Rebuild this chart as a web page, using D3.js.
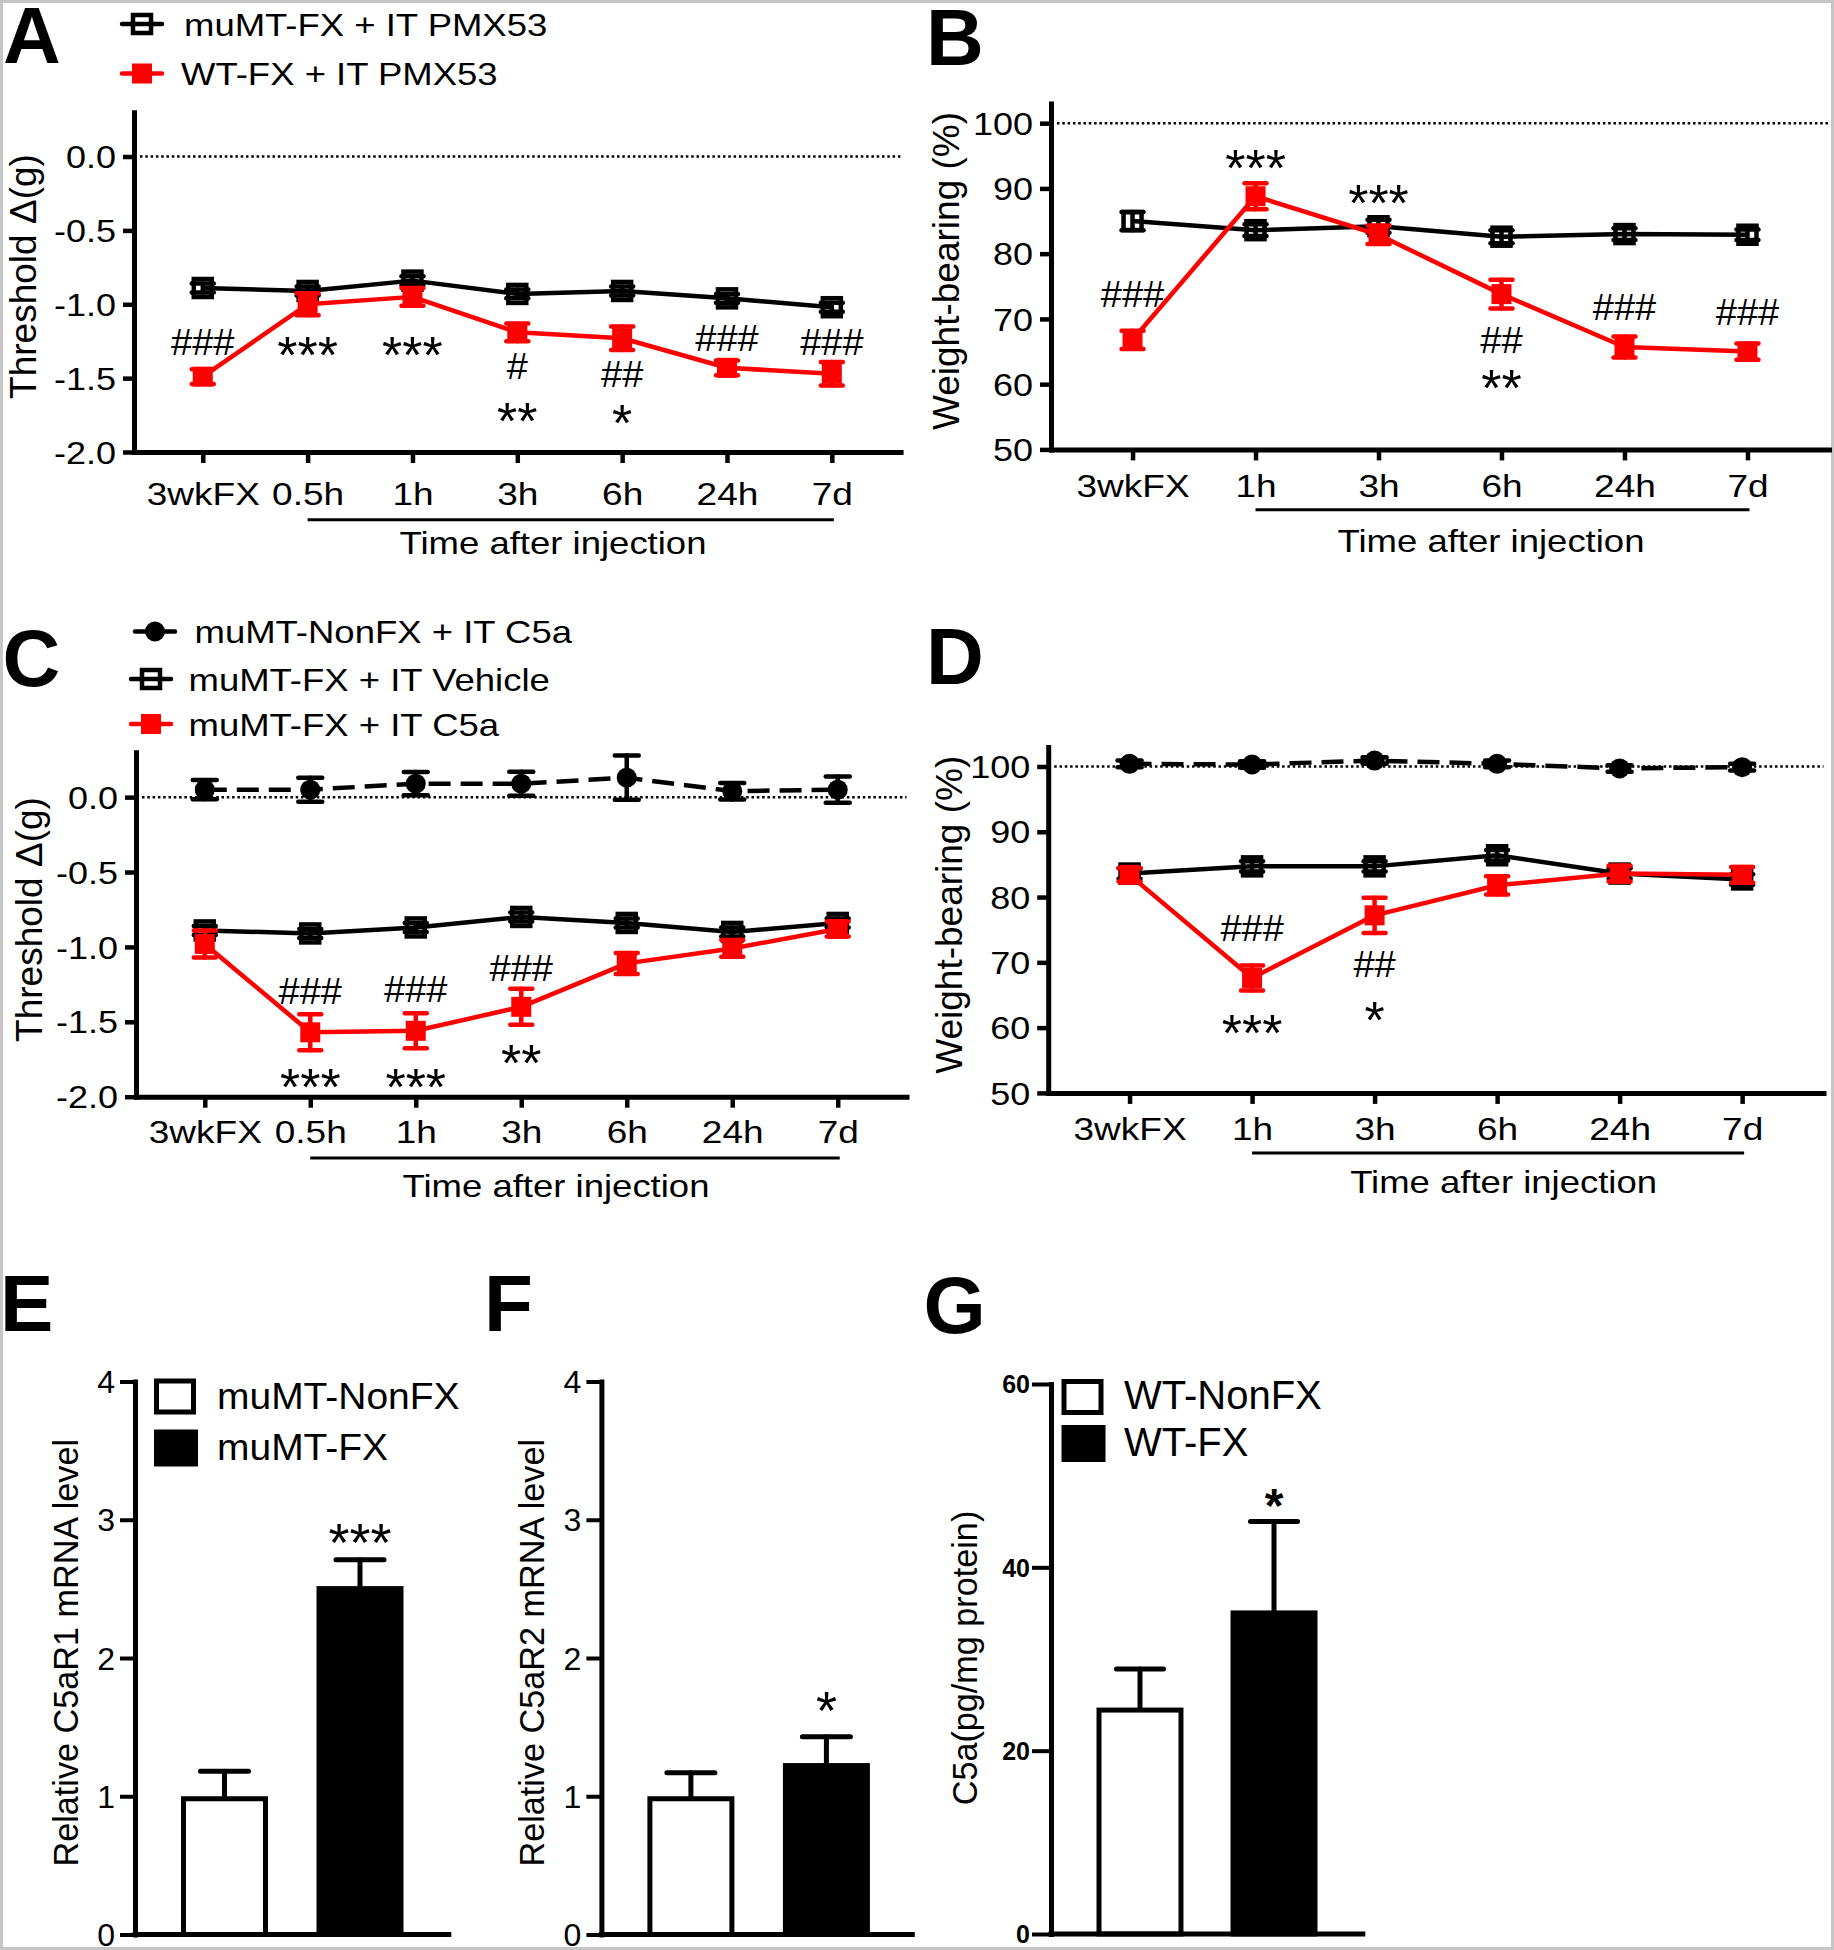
<!DOCTYPE html>
<html><head><meta charset="utf-8">
<script src="https://cdn.jsdelivr.net/npm/d3@7"></script>
<style>body{margin:0;background:#fff}svg{display:block}</style>
</head><body>
<script>
// ---------------- DATA ----------------
const timeA = ["3wkFX","0.5h","1h","3h","6h","24h","7d"];
const timeB = ["3wkFX","1h","3h","6h","24h","7d"];

// Panel A : threshold change (g)
const aMuMTPMX = [-0.89,-0.91,-0.84,-0.93,-0.91,-0.96,-1.02];
const aMuMTPMXErr = [0.03,0.03,0.03,0.03,0.03,0.03,0.03];
const aWTPMX = [-1.49,-1.00,-0.95,-1.19,-1.23,-1.43,-1.47];
const aWTPMXErr = [0.05,0.075,0.06,0.06,0.08,0.05,0.08];
const aAnnot = [["3wkFX","###",-1.343],["0.5h","***",-1.465],["1h","***",-1.465],["3h","#",-1.506],["3h","**",-1.912],
                ["6h","##",-1.557],["6h","*",-1.926],["24h","###",-1.316],["7d","###",-1.343]];

// Panel B : weight bearing (%)
const bMuMTPMX = [85.0,83.6,84.2,82.6,83.0,82.9];
const bMuMTPMXErr = [1.4,0.9,1.0,1.0,0.9,0.8];
const bWTPMX = [66.8,88.8,82.9,73.8,65.7,65.0];
const bWTPMXErr = [1.4,2.0,1.4,2.2,1.6,1.25];
const bAnnot = [["3wkFX","###",71.8],["1h","***",90.4],["3h","***",85.0],["6h","##",64.8],["6h","**",56.6],
                ["24h","###",69.8],["7d","###",69.0]];

// Panel C : threshold change (g)
const cNonFXC5a = [0.05,0.05,0.09,0.09,0.13,0.04,0.05];
const cNonFXC5aErr = [0.064,0.08,0.077,0.08,0.148,0.055,0.087];
const cFXVeh = [-0.89,-0.91,-0.87,-0.80,-0.84,-0.90,-0.84];
const cFXVehErr = [0.03,0.03,0.03,0.03,0.03,0.03,0.03];
const cFXC5a = [-0.98,-1.57,-1.56,-1.40,-1.11,-1.01,-0.88];
const cFXC5aErr = [0.09,0.12,0.117,0.12,0.07,0.056,0.05];
const cAnnot = [["0.5h","###",-1.379],["0.5h","***",-2.055],["1h","###",-1.368],["1h","***",-2.055],
                ["3h","###",-1.228],["3h","**",-1.895]];

// Panel D : weight bearing (%)
const dNonFXC5a = [100.4,100.3,100.9,100.4,99.7,99.9];
const dNonFXC5aErr = [0.5,0.5,0.5,0.5,0.5,0.5];
const dFXVeh = [83.6,84.7,84.7,86.4,83.6,82.7];
const dFXVehErr = [0.8,0.8,0.8,0.8,0.8,0.8];
const dFXC5a = [83.4,67.6,77.2,81.8,83.6,83.4];
const dFXC5aErr = [1.0,1.9,2.7,1.4,1.2,1.2];
const dAnnot = [["1h","###",73.3],["1h","***",56.4],["3h","##",67.75],["3h","*",58.4]];

// Panels E, F, G : bars
const efGroups = ["muMT-NonFX","muMT-FX"];
const eMean = [1.0,2.52], eErr = [0.18,0.19];
const fMean = [1.0,1.24], fErr = [0.17,0.19];
const gGroups = ["WT-NonFX","WT-FX"];
const gMean = [24.7,35.3], gErr = [4.2,9.7];
const eAnnot = [["muMT-FX","***",2.70]];
const fAnnot = [["muMT-FX","*",1.486]];
const gAnnot = [["WT-FX","*",44.95]];

const ticksThr = [-2.0,-1.5,-1.0,-0.5,0.0];
const ticksWB = [50,60,70,80,90,100];
const ticksRel = [0,1,2,3,4];
const ticksC5a = [0,20,40,60];

// ---------------- DRAWING ----------------
const FONT = "'Liberation Sans', Arial, Helvetica, sans-serif";
const RED = "#ff0000";
const K = 0.86; // vertical squish of horizontal text in top panels
const svg = d3.select("body").append("svg").attr("width",1834).attr("height",1950)
  .style("font-family",FONT);
svg.append("rect").attr("width",1834).attr("height",1950).attr("fill","#fff");
svg.append("rect").attr("x",1.5).attr("y",1.5).attr("width",1831).attr("height",1947)
  .attr("fill","none").attr("stroke","#c6c6c6").attr("stroke-width",3);

function txt(g,x,y,s,o={}){
  const F=o.size||36, k=o.k||1;
  let tr=`translate(${x},${y}) scale(1,${k})`+(o.rot?` rotate(${o.rot})`:"");
  return g.append("text").attr("transform",tr).attr("font-size",F)
    .attr("font-weight",o.weight||"normal").attr("text-anchor",o.anchor||"start")
    .attr("fill","#000").text(s);
}

function styleAxis(a){
  a.select(".domain").attr("stroke","#000").attr("stroke-width",5).attr("stroke-linecap","square");
  a.selectAll(".tick line").attr("stroke","#000").attr("stroke-width",4.5);
  a.selectAll("text").attr("fill","#000").attr("font-family",FONT);
}

function annotate(g,x,y,list,o={}){
  g.append("g").selectAll("text").data(list).join("text")
    .attr("transform",d=>{
      const isHash=d[1].includes("#");
      return `translate(${x(d[0])+(o.dx||0)},${y(d[2])}) scale(1,${isHash?0.95:1})`;})
    .attr("text-anchor","middle")
    .attr("font-size",d=>d[1].includes("#")?38:(o.ast||52))
    .attr("font-weight",o.weight||"normal")
    .attr("fill","#000").text(d=>d[1]);
}

function drawMarker(sel,type,color){
  if(type==="open"){
    sel.append("rect").attr("x",-9).attr("y",-9).attr("width",18).attr("height",18)
      .attr("fill","none").attr("stroke",color).attr("stroke-width",4.5);
  } else if(type==="filled"){
    sel.append("rect").attr("x",-10).attr("y",-10).attr("width",20).attr("height",20).attr("fill",color);
  } else {
    sel.append("circle").attr("r",10).attr("fill",color);
  }
}

function series(g,x,y,cats,vals,errs,st){
  const pts=cats.map((c,i)=>({c,v:vals[i],e:errs[i]}));
  const sg=g.append("g");
  sg.append("path").datum(pts)
    .attr("d",d3.line().x(d=>x(d.c)).y(d=>y(d.v)))
    .attr("fill","none").attr("stroke",st.color).attr("stroke-width",4.5)
    .attr("stroke-linejoin","round").attr("stroke-dasharray",st.dash||null);
  const eb=sg.append("g").attr("stroke",st.color).attr("stroke-width",4.5).attr("stroke-linecap","round")
    .selectAll("g").data(pts).join("g");
  eb.append("line").attr("x1",d=>x(d.c)).attr("x2",d=>x(d.c)).attr("y1",d=>y(d.v+d.e)).attr("y2",d=>y(d.v-d.e));
  eb.append("line").attr("x1",d=>x(d.c)-st.cap/2).attr("x2",d=>x(d.c)+st.cap/2).attr("y1",d=>y(d.v+d.e)).attr("y2",d=>y(d.v+d.e));
  eb.append("line").attr("x1",d=>x(d.c)-st.cap/2).attr("x2",d=>x(d.c)+st.cap/2).attr("y1",d=>y(d.v-d.e)).attr("y2",d=>y(d.v-d.e));
  const mk=sg.append("g").selectAll("g").data(pts).join("g")
    .attr("transform",d=>`translate(${x(d.c)},${y(d.v)})`);
  drawMarker(mk,st.marker,st.color);
}

function legendItem(g,cx,cy,tx,label,st){
  const lg=g.append("g");
  lg.append("line").attr("x1",cx-20).attr("x2",cx+20).attr("y1",cy).attr("y2",cy)
    .attr("stroke",st.color).attr("stroke-width",4.5).attr("stroke-linecap","round");
  const m=lg.append("g").attr("transform",`translate(${cx},${cy})`);
  drawMarker(m,st.marker,st.color);
  txt(lg,tx,cy+11.5,label,{size:36.5,k:K});
}

function linePanel(p){
  const g=svg.append("g");
  const x=d3.scalePoint().domain(p.cats).range([p.x0,p.x1]).padding(p.pad);
  const y=d3.scaleLinear().domain(p.domain).range([p.yb,p.yt]);
  g.append("line").attr("x1",p.x0+6).attr("x2",p.x1).attr("y1",y(p.ref)).attr("y2",y(p.ref))
    .attr("stroke","#000").attr("stroke-width",2.5).attr("stroke-dasharray","2.5,2.8");
  const yg=g.append("g").attr("transform",`translate(${p.x0},0)`)
    .call(d3.axisLeft(y).tickValues(p.ticks).tickFormat(p.fmt).tickSize(11).tickSizeOuter(0).tickPadding(7));
  const xg=g.append("g").attr("transform",`translate(0,${p.yb})`)
    .call(d3.axisBottom(x).tickSize(11).tickSizeOuter(0));
  styleAxis(yg); styleAxis(xg);
  yg.selectAll(".tick text").attr("font-size",36).attr("transform",`scale(1,${K})`).attr("dy","0.36em");
  xg.selectAll(".tick text").attr("font-size",37).attr("y",0).attr("dy",0)
    .attr("transform",`translate(0,${p.lblOff}) scale(1,${K})`);
  // bracket under post-injection time points
  g.append("line").attr("x1",x(p.cats[1])).attr("x2",x(p.cats[p.cats.length-1])+2)
    .attr("y1",p.yb+p.brOff).attr("y2",p.yb+p.brOff).attr("stroke","#000").attr("stroke-width",3);
  txt(g,p.tx,p.ty,"Time after injection",{size:36.5,k:K,anchor:"middle"});
  txt(g,p.lx,p.ly,p.ylabel,{size:37,rot:-90,anchor:"middle"});
  p.series.forEach(s=>series(g,x,y,p.cats,s.vals,s.errs,s.st));
  annotate(g,x,y,p.annot);
  return g;
}

const stOpen={color:"#000",marker:"open",cap:22};
const stRed={color:RED,marker:"filled",cap:22};
const stCirc={color:"#000",marker:"circle",cap:24,dash:"22,10"};
const fmt1=v=>v.toFixed(1), fmt0=v=>String(v);

// Panel A
const gA=linePanel({cats:timeA,x0:134,x1:900.6,pad:0.656,yb:452,yt:112.2,domain:[-2,0.3],ticks:ticksThr,fmt:fmt1,ref:0,
  lblOff:53,brOff:67.7,tx:553,ty:553.5,lx:36,ly:276.5,ylabel:"Threshold \u0394(g)",
  series:[{vals:aMuMTPMX,errs:aMuMTPMXErr,st:stOpen},{vals:aWTPMX,errs:aWTPMXErr,st:stRed}],annot:aAnnot});
legendItem(gA,142,24,184,"muMT-FX + IT PMX53",stOpen);
legendItem(gA,142,73.5,181,"WT-FX + IT PMX53",stRed);

// Panel B
linePanel({cats:timeB,x0:1051,x1:1829,pad:0.663,yb:449.4,yt:103.6,domain:[50,103],ticks:ticksWB,fmt:fmt0,ref:100,
  lblOff:48,brOff:60.3,tx:1491,ty:551.5,lx:958.7,ly:271,ylabel:"Weight-bearing (%)",
  series:[{vals:bMuMTPMX,errs:bMuMTPMXErr,st:stOpen},{vals:bWTPMX,errs:bWTPMXErr,st:stRed}],annot:bAnnot});

// Panel C
const gC=linePanel({cats:timeA,x0:136,x1:906.5,pad:0.652,yb:1096.7,yt:752.2,domain:[-2,0.3],ticks:ticksThr,fmt:fmt1,ref:0,
  lblOff:46.3,brOff:61.3,tx:556,ty:1196.5,lx:41.7,ly:919.5,ylabel:"Threshold \u0394(g)",
  series:[{vals:cNonFXC5a,errs:cNonFXC5aErr,st:stCirc},{vals:cFXVeh,errs:cFXVehErr,st:stOpen},{vals:cFXC5a,errs:cFXC5aErr,st:stRed}],annot:cAnnot});
legendItem(gC,155,631.5,194.5,"muMT-NonFX + IT C5a",{color:"#000",marker:"circle"});
legendItem(gC,151,679,188.5,"muMT-FX + IT Vehicle",stOpen);
legendItem(gC,151,724,188.5,"muMT-FX + IT C5a",stRed);

// Panel D
linePanel({cats:timeB,x0:1048.2,x1:1823.5,pad:0.664,yb:1092.9,yt:746.9,domain:[50,103],ticks:ticksWB,fmt:fmt0,ref:100,
  lblOff:46.7,brOff:60.1,tx:1503.6,ty:1192.5,lx:961.6,ly:914.8,ylabel:"Weight-bearing (%)",
  series:[{vals:dNonFXC5a,errs:dNonFXC5aErr,st:stCirc},{vals:dFXVeh,errs:dFXVehErr,st:stOpen},{vals:dFXC5a,errs:dFXC5aErr,st:stRed}],annot:dAnnot});

// Bar panels
function barPanel(p){
  const g=svg.append("g");
  const x=d3.scaleBand().domain(p.groups).range([p.x0+p.r0,p.x0+p.r1]).paddingInner(p.pi).paddingOuter(0);
  const y=d3.scaleLinear().domain(p.domain).range([p.yb,p.yt]);
  const bw=x.bandwidth();
  const pts=p.groups.map((gname,i)=>({gname,v:p.mean[i],e:p.err[i],fill:i===0?"#fff":"#000"}));
  const eb=g.append("g").attr("stroke","#000").attr("stroke-width",5).attr("stroke-linecap","round")
    .selectAll("g").data(pts).join("g");
  eb.append("line").attr("x1",d=>x(d.gname)+bw/2).attr("x2",d=>x(d.gname)+bw/2).attr("y1",d=>y(d.v)).attr("y2",d=>y(d.v+d.e));
  eb.append("line").attr("x1",d=>x(d.gname)+bw/2-p.cap/2).attr("x2",d=>x(d.gname)+bw/2+p.cap/2)
    .attr("y1",d=>y(d.v+d.e)).attr("y2",d=>y(d.v+d.e));
  g.append("g").selectAll("rect").data(pts).join("rect")
    .attr("x",d=>x(d.gname)+2.5).attr("width",bw-5).attr("y",d=>y(d.v)+2.5).attr("height",d=>y(0)-y(d.v)-2.5)
    .attr("fill",d=>d.fill).attr("stroke","#000").attr("stroke-width",5);
  const yg=g.append("g").attr("transform",`translate(${p.x0},0)`)
    .call(d3.axisLeft(y).tickValues(p.ticks).tickFormat(fmt0).tickSize(p.ts).tickSizeOuter(0).tickPadding(p.tp));
  styleAxis(yg);
  yg.selectAll(".tick line").attr("stroke-width",4);
  yg.selectAll(".tick text").attr("font-size",p.tf).attr("font-weight",p.tw).attr("dy","0.35em");
  g.append("line").attr("x1",p.x0).attr("x2",p.x1).attr("y1",p.yb).attr("y2",p.yb)
    .attr("stroke","#000").attr("stroke-width",5).attr("stroke-linecap","square");
  txt(g,p.lx,p.ly,p.ylabel,{size:34.2,rot:-90,anchor:"middle"});
  annotate(g,d=>x(d)+bw/2,y,p.annot,{ast:p.ast,weight:p.aw});
  return g;
}

const gE=barPanel({groups:efGroups,mean:eMean,err:eErr,x0:135,x1:448.8,r0:46,r1:268.5,pi:0.358,yb:1934.5,yt:1381.5,
  domain:[0,4],ticks:ticksRel,ts:15,tp:5,tf:32,tw:"normal",cap:48,lx:77.5,ly:1652.7,
  ylabel:"Relative C5aR1 mRNA level",annot:eAnnot,ast:54,aw:"normal"});
barPanel({groups:efGroups,mean:fMean,err:fErr,x0:601.4,x1:912.3,r0:46,r1:268.5,pi:0.358,yb:1934.5,yt:1381.5,
  domain:[0,4],ticks:ticksRel,ts:15,tp:5,tf:32,tw:"normal",cap:48,lx:544,ly:1652.7,
  ylabel:"Relative C5aR2 mRNA level",annot:fAnnot,ast:54,aw:"normal"});
const gG=barPanel({groups:gGroups,mean:gMean,err:gErr,x0:1051,x1:1362.8,r0:45.5,r1:266.5,pi:0.351,yb:1934,yt:1384,
  domain:[0,60],ticks:ticksC5a,ts:19,tp:2,tf:25,tw:"bold",cap:47,lx:977,ly:1658,
  ylabel:"C5a(pg/mg protein)",annot:gAnnot,ast:48,aw:"bold"});

// bar legends
function boxLegend(g,bx,by,tx,items,fs,k){
  items.forEach((it,i)=>{
    const yy=by[i];
    if(it.fill==="#fff"){
      g.append("rect").attr("x",bx+2.5).attr("y",yy+2.5).attr("width",37).attr("height",31)
        .attr("fill","#fff").attr("stroke","#000").attr("stroke-width",5);
    } else {
      g.append("rect").attr("x",bx).attr("y",yy).attr("width",44).attr("height",37).attr("fill","#000");
    }
    txt(g,tx,yy+it.base,it.label,{size:fs,k});
  });
}
boxLegend(gE,154,[1378.5,1429.5],217,[{label:efGroups[0],fill:"#fff",base:30},{label:efGroups[1],fill:"#000",base:30.5}],39,0.95);
boxLegend(gG,1061.5,[1379,1425],1124,[{label:gGroups[0],fill:"#fff",base:30},{label:gGroups[1],fill:"#000",base:31}],40,1);

// panel letters
[["A",3,63],["B",926,64.5],["C",2.5,686],["D",926,684],["E",0,1331],["F",484,1331],["G",923.5,1333]]
  .forEach(l=>txt(svg,l[1],l[2],l[0],{size:80,weight:"bold"}));
</script>
</body></html>
